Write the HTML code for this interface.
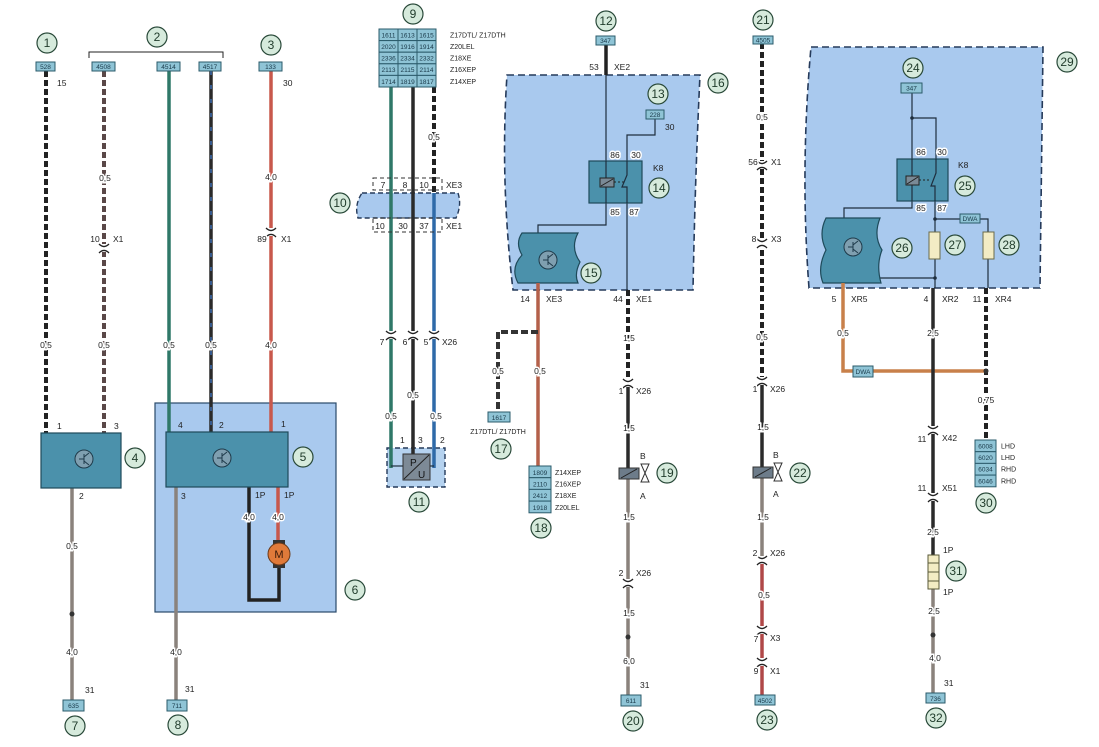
<!DOCTYPE html>
<html><head><meta charset="utf-8"><style>
html,body{margin:0;padding:0;background:#fff;}
svg{display:block;font-family:"Liberation Sans",sans-serif;}
.t{font-size:8.5px;fill:#222;text-anchor:middle;paint-order:stroke;stroke:#fff;stroke-width:3px;}
.tl{font-size:8.5px;fill:#222;text-anchor:start;}
.tb{font-size:6.5px;fill:#1a3a4a;text-anchor:middle;}
.ts{font-size:7px;fill:#222;text-anchor:start;}
.c circle{fill:#d6eadc;stroke:#2a4a3a;stroke-width:1.2;}
.c text{font-size:12px;fill:#1f3a2a;text-anchor:middle;}
.bx{fill:#8fc4d6;stroke:#2b5b6b;stroke-width:1;}
.mod{fill:#4b91ab;stroke:#1e4a5a;stroke-width:1.2;}
.sw{stroke:#fff;stroke-width:4;}
.sd{stroke:#222;stroke-width:4;stroke-dasharray:6 3;}
.thin{stroke:#1e2e3e;stroke-width:1.2;fill:none;}
</style></head><body>
<svg width="1099" height="747" viewBox="0 0 1099 747" xmlns="http://www.w3.org/2000/svg">
<defs>
<g id="cn"><rect x="-5" y="-4" width="10" height="8" fill="#fff"/><path d="M-5,-4 Q0,1 5,-4" stroke="#222" stroke-width="1.3" fill="none"/><path d="M-5,5 Q0,0 5,5" stroke="#222" stroke-width="1.3" fill="none"/></g>
</defs>

<!-- background boxes -->
<rect x="155" y="403" width="181" height="209" fill="#a9c9ee" stroke="#2a4a6a" stroke-width="1.2"/>
<path d="M507,75 L700,75 Q695,180 693,290 L513,290 Q500,180 507,75 Z" fill="#a9c9ee" stroke="#253a5a" stroke-width="1.6" stroke-dasharray="7 4"/>
<path d="M811,47 L1043,47 L1040,288 L809,288 Q800,170 811,47 Z" fill="#a9c9ee" stroke="#253a5a" stroke-width="1.6" stroke-dasharray="7 4"/>
<path d="M362,193 L458,193 Q462,205 456,218 L358,218 Q354,205 362,193 Z" fill="#a9c9ee" stroke="#253a5a" stroke-width="1.4" stroke-dasharray="5 3"/>
<rect x="387" y="448" width="58" height="39" fill="#b5d2ef" stroke="#253a5a" stroke-width="1.4" stroke-dasharray="5 3"/>

<!-- ===== wire 1 ===== -->
<line x1="46" y1="71" x2="46" y2="433" class="sw"/><line x1="46" y1="71" x2="46" y2="433" class="sd"/>
<line x1="72" y1="488" x2="72" y2="700" stroke="#8a827c" stroke-width="3.5"/>
<circle cx="72" cy="614" r="2.5" fill="#333"/>
<!-- wire 2a -->
<line x1="104" y1="71" x2="104" y2="433" class="sw"/><line x1="104" y1="71" x2="104" y2="433" stroke="#5a4848" stroke-width="4" stroke-dasharray="6 3"/>
<!-- wire 2b,2c,3 -->
<line x1="169" y1="71" x2="169" y2="432" stroke="#2f7868" stroke-width="3.5"/>
<line x1="211" y1="71" x2="211" y2="432" stroke="#2a2a2a" stroke-width="3.5"/>
<line x1="211" y1="71" x2="211" y2="432" stroke="#3a6ab0" stroke-width="1.5" stroke-dasharray="4 10"/>
<line x1="271" y1="71" x2="271" y2="432" stroke="#c8584c" stroke-width="3.5"/>
<use href="#cn" x="104" y="248"/><use href="#cn" x="271" y="232"/>
<line x1="176" y1="487" x2="176" y2="700" stroke="#8a827c" stroke-width="3.5"/>
<polyline points="249,487 249,600 279,600 279,566" fill="none" stroke="#222" stroke-width="3.5"/>
<line x1="278" y1="487" x2="278" y2="542" stroke="#c8584c" stroke-width="3.5"/>

<!-- bracket 2 -->
<polyline points="89,58 89,52 223,52 223,58" fill="none" stroke="#222" stroke-width="1"/>

<!-- top boxes -->
<rect x="36" y="62" width="19" height="9" class="bx"/><text x="45.5" y="69" class="tb">528</text>
<rect x="92" y="62" width="23" height="9" class="bx"/><text x="103.5" y="69" class="tb">4508</text>
<rect x="157" y="62" width="23" height="9" class="bx"/><text x="168.5" y="69" class="tb">4514</text>
<rect x="199" y="62" width="22" height="9" class="bx"/><text x="210" y="69" class="tb">4517</text>
<rect x="259" y="62" width="23" height="9" class="bx"/><text x="270.5" y="69" class="tb">133</text>

<!-- modules 4,5 -->
<rect x="41" y="433" width="80" height="55" class="mod"/>
<circle cx="84" cy="459" r="9" fill="#7f9fb0" stroke="#1e3a4a"/><path d="M79,459 H84 M84,454 V464 M84,457 L89,453 M84,461 L89,465" stroke="#1e3a4a" fill="none"/>
<rect x="166" y="432" width="122" height="55" class="mod"/>
<circle cx="222" cy="458" r="9" fill="#7f9fb0" stroke="#1e3a4a"/><path d="M217,458 H222 M222,453 V463 M222,456 L227,452 M222,460 L227,464" stroke="#1e3a4a" fill="none"/>
<!-- motor -->
<rect x="273" y="540" width="12" height="4" fill="#333"/><rect x="273" y="564" width="12" height="4" fill="#333"/>
<circle cx="279" cy="554" r="11" fill="#e07a3a" stroke="#6a3a1a"/><text x="279" y="558" style="font-size:11px;text-anchor:middle;fill:#3a1a0a">M</text>

<!-- labels left -->
<text x="57" y="86" class="tl">15</text>
<text x="46" y="348" class="t">0,5</text>
<text x="105" y="181" class="t">0,5</text>
<text x="95" y="242" class="t">10</text><text x="113" y="242" class="tl">X1</text>
<text x="104" y="348" class="t">0,5</text>
<text x="169" y="348" class="t">0,5</text>
<text x="211" y="348" class="t">0,5</text>
<text x="283" y="86" class="tl">30</text>
<text x="271" y="180" class="t">4,0</text>
<text x="262" y="242" class="t">89</text><text x="281" y="242" class="tl">X1</text>
<text x="271" y="348" class="t">4,0</text>
<text x="57" y="429" class="tl">1</text><text x="114" y="429" class="tl">3</text><text x="79" y="499" class="tl">2</text>
<text x="178" y="428" class="tl">4</text><text x="219" y="428" class="tl">2</text><text x="281" y="427" class="tl">1</text>
<text x="181" y="499" class="tl">3</text>
<text x="255" y="498" class="tl">1P</text><text x="284" y="498" class="tl">1P</text>
<text x="249" y="520" class="t">4,0</text><text x="278" y="520" class="t">4,0</text>
<text x="72" y="549" class="t">0,5</text><text x="72" y="655" class="t">4,0</text><text x="85" y="693" class="tl">31</text>
<text x="176" y="655" class="t">4,0</text><text x="185" y="692" class="tl">31</text>
<rect x="63" y="700" width="21" height="11" class="bx"/><text x="73.5" y="708" class="tb">635</text>
<rect x="167" y="700" width="20" height="11" class="bx"/><text x="177" y="708" class="tb">711</text>

<!-- ===== block 9 ===== -->
<line x1="391" y1="87" x2="391" y2="468" stroke="#2f7868" stroke-width="3.5"/>
<line x1="413" y1="87" x2="413" y2="455" stroke="#2a2a2a" stroke-width="3.5"/>
<line x1="434" y1="87" x2="434" y2="193" class="sw"/><line x1="434" y1="87" x2="434" y2="193" class="sd"/>
<line x1="434" y1="193" x2="434" y2="468" stroke="#2f6aa8" stroke-width="3.5"/>
<polyline points="391,466 403,466" stroke="#1e2e3e" stroke-width="1.2"/>
<polyline points="434,466 430,466" stroke="#1e2e3e" stroke-width="1.2"/>
<rect x="403" y="454" width="27" height="26" fill="#7d8a96" stroke="#333"/>
<line x1="404" y1="479" x2="429" y2="455" stroke="#222"/>
<text x="410" y="466" style="font-size:10px;fill:#111">P</text><text x="418" y="478" style="font-size:10px;fill:#111">U</text>
<rect x="373" y="178" width="69" height="12" fill="none" stroke="#333" stroke-dasharray="4 3"/>
<rect x="373" y="218" width="69" height="14" fill="none" stroke="#333" stroke-dasharray="4 3"/>
<g fill="#8fc4d6" stroke="#2b5b6b">
<rect x="379" y="29" width="19" height="11.6"/><rect x="398" y="29" width="19" height="11.6"/><rect x="417" y="29" width="19" height="11.6"/>
<rect x="379" y="40.6" width="19" height="11.6"/><rect x="398" y="40.6" width="19" height="11.6"/><rect x="417" y="40.6" width="19" height="11.6"/>
<rect x="379" y="52.2" width="19" height="11.6"/><rect x="398" y="52.2" width="19" height="11.6"/><rect x="417" y="52.2" width="19" height="11.6"/>
<rect x="379" y="63.8" width="19" height="11.6"/><rect x="398" y="63.8" width="19" height="11.6"/><rect x="417" y="63.8" width="19" height="11.6"/>
<rect x="379" y="75.4" width="19" height="11.6"/><rect x="398" y="75.4" width="19" height="11.6"/><rect x="417" y="75.4" width="19" height="11.6"/>
</g>
<g class="tb">
<text x="388.5" y="37.5" class="tb">1611</text><text x="407.5" y="37.5" class="tb">1613</text><text x="426.5" y="37.5" class="tb">1615</text>
<text x="388.5" y="49" class="tb">2020</text><text x="407.5" y="49" class="tb">1916</text><text x="426.5" y="49" class="tb">1914</text>
<text x="388.5" y="60.5" class="tb">2336</text><text x="407.5" y="60.5" class="tb">2334</text><text x="426.5" y="60.5" class="tb">2332</text>
<text x="388.5" y="72" class="tb">2113</text><text x="407.5" y="72" class="tb">2115</text><text x="426.5" y="72" class="tb">2114</text>
<text x="388.5" y="84" class="tb">1714</text><text x="407.5" y="84" class="tb">1819</text><text x="426.5" y="84" class="tb">1817</text>
</g>
<text x="450" y="37.5" class="ts">Z17DTL/ Z17DTH</text>
<text x="450" y="49" class="ts">Z20LEL</text>
<text x="450" y="60.5" class="ts">Z18XE</text>
<text x="450" y="72" class="ts">Z16XEP</text>
<text x="450" y="84" class="ts">Z14XEP</text>
<text x="434" y="140" class="t">0,5</text>
<text x="383" y="188" class="t">7</text><text x="405" y="188" class="t">8</text><text x="424" y="188" class="t">10</text><text x="446" y="188" class="tl">XE3</text>
<text x="380" y="229" class="t">10</text><text x="403" y="229" class="t">30</text><text x="424" y="229" class="t">37</text><text x="446" y="229" class="tl">XE1</text>
<use href="#cn" x="391" y="335"/><use href="#cn" x="413" y="335"/><use href="#cn" x="434" y="335"/>
<text x="382" y="345" class="t">7</text><text x="405" y="345" class="t">6</text><text x="426" y="345" class="t">5</text><text x="442" y="345" class="tl">X26</text>
<text x="391" y="419" class="t">0,5</text><text x="413" y="398" class="t">0,5</text><text x="436" y="419" class="t">0,5</text>
<text x="400" y="443" class="tl">1</text><text x="418" y="443" class="tl">3</text><text x="440" y="443" class="tl">2</text>

<!-- ===== box 16 content ===== -->
<line x1="606" y1="44" x2="606" y2="75" stroke="#222" stroke-width="3.5"/>
<polyline points="606,75 606,225 538,225 538,233" class="thin"/>
<polyline points="655,119 655,135 627,135 627,175" class="thin"/>
<line x1="627" y1="190" x2="627" y2="290" class="thin"/>
<rect x="589" y="161" width="53" height="42" class="mod"/>
<line x1="606" y1="161" x2="606" y2="203" class="thin"/>
<rect x="600" y="178" width="14" height="9" fill="#7a8a96" stroke="#222"/><line x1="601" y1="186" x2="613" y2="179" stroke="#222"/>
<line x1="614" y1="182" x2="624" y2="182" stroke="#222" stroke-dasharray="2 2"/>
<polyline points="627,161 627,175 622,187 627,187 627,203" fill="none" stroke="#1e2e3e" stroke-width="1.2"/>
<rect x="646" y="110" width="18" height="9" class="bx"/><text x="655" y="117" class="tb">228</text>
<text x="665" y="130" class="tl">30</text>
<text x="615" y="158" class="t">86</text><text x="636" y="158" class="t">30</text>
<text x="653" y="171" class="tl">K8</text>
<text x="615" y="215" class="t">85</text><text x="634" y="215" class="t">87</text>
<path d="M522,233 L578,233 Q570,248 580,262 Q574,274 578,283 L518,283 Q510,268 522,255 Q515,243 522,233 Z" class="mod"/>
<circle cx="548" cy="260" r="9" fill="#7f9fb0" stroke="#1e3a4a"/><path d="M543,260 H548 M548,255 V265 M548,258 L553,254 M548,262 L553,266" stroke="#1e3a4a" fill="none"/>
<rect x="596" y="36" width="19" height="9" class="bx"/><text x="605.5" y="43" class="tb">347</text>
<text x="594" y="70" class="t">53</text><text x="614" y="70" class="tl">XE2</text>

<!-- below box 16 -->
<line x1="538" y1="283" x2="538" y2="466" stroke="#b4604a" stroke-width="3.5"/>
<polyline points="538,332 498,332 498,412" fill="none" stroke="#fff" stroke-width="4"/>
<polyline points="538,332 498,332 498,412" fill="none" stroke="#333" stroke-width="4" stroke-dasharray="7 3"/>
<text x="525" y="302" class="t">14</text><text x="546" y="302" class="tl">XE3</text>
<text x="618" y="302" class="t">44</text><text x="636" y="302" class="tl">XE1</text>
<text x="498" y="374" class="t">0,5</text><text x="540" y="374" class="t">0,5</text>
<rect x="488" y="412" width="22" height="10" class="bx"/><text x="499" y="420" class="tb">1617</text>
<text x="498" y="434" class="t" style="font-size:7px">Z17DTL/ Z17DTH</text>
<g fill="#8fc4d6" stroke="#2b5b6b"><rect x="529" y="466" width="22" height="11.7"/><rect x="529" y="477.7" width="22" height="11.7"/><rect x="529" y="489.4" width="22" height="11.7"/><rect x="529" y="501.1" width="22" height="11.7"/></g>
<text x="540" y="475" class="tb">1809</text><text x="540" y="486.5" class="tb">2110</text><text x="540" y="498" class="tb">2412</text><text x="540" y="510" class="tb">1918</text>
<text x="555" y="475" class="ts">Z14XEP</text><text x="555" y="486.5" class="ts">Z16XEP</text><text x="555" y="498" class="ts">Z18XE</text><text x="555" y="510" class="ts">Z20LEL</text>

<!-- wire 19/20 -->
<line x1="628" y1="290" x2="628" y2="383" class="sw"/><line x1="628" y1="290" x2="628" y2="383" class="sd"/>
<line x1="628" y1="383" x2="628" y2="470" stroke="#2a2a2a" stroke-width="3.5"/>
<line x1="628" y1="478" x2="628" y2="695" stroke="#8a827c" stroke-width="3.5"/>
<circle cx="628" cy="637" r="2.5" fill="#333"/>
<use href="#cn" x="628" y="383"/><use href="#cn" x="628" y="583"/>
<rect x="619" y="468" width="20" height="11" fill="#6d7c8a" stroke="#333"/><line x1="621" y1="478" x2="637" y2="469" stroke="#222"/>
<path d="M641,464 L649,464 L641,482 L649,482 Z" fill="#fff" stroke="#333"/>
<text x="629" y="341" class="t">1,5</text>
<text x="621" y="394" class="t">1</text><text x="636" y="394" class="tl">X26</text>
<text x="629" y="431" class="t">1,5</text>
<text x="640" y="459" class="tl">B</text><text x="640" y="499" class="tl">A</text>
<text x="629" y="520" class="t">1,5</text>
<text x="621" y="576" class="t">2</text><text x="636" y="576" class="tl">X26</text>
<text x="629" y="616" class="t">1,5</text><text x="629" y="664" class="t">6,0</text>
<text x="640" y="688" class="tl">31</text>
<rect x="621" y="695" width="20" height="11" class="bx"/><text x="631" y="703" class="tb">611</text>

<!-- wire 21-23 -->
<line x1="762" y1="43" x2="762" y2="381" class="sw"/><line x1="762" y1="43" x2="762" y2="381" class="sd"/>
<line x1="762" y1="381" x2="762" y2="468" stroke="#2a2a2a" stroke-width="3.5"/>
<line x1="762" y1="478" x2="762" y2="560" stroke="#8a827c" stroke-width="3.5"/>
<line x1="762" y1="560" x2="762" y2="695" stroke="#b04848" stroke-width="3.5"/>
<use href="#cn" x="762" y="165"/><use href="#cn" x="762" y="243"/><use href="#cn" x="762" y="381"/><use href="#cn" x="762" y="560"/><use href="#cn" x="762" y="630"/><use href="#cn" x="762" y="662"/>
<rect x="753" y="467" width="20" height="11" fill="#6d7c8a" stroke="#333"/><line x1="755" y1="477" x2="771" y2="468" stroke="#222"/>
<path d="M774,463 L782,463 L774,481 L782,481 Z" fill="#fff" stroke="#333"/>
<rect x="753" y="36" width="20" height="8" class="bx"/><text x="763" y="42.5" class="tb">4505</text>
<text x="762" y="120" class="t">0,5</text>
<text x="753" y="165" class="t">56</text><text x="771" y="165" class="tl">X1</text>
<text x="754" y="242" class="t">8</text><text x="771" y="242" class="tl">X3</text>
<text x="762" y="340" class="t">0,5</text>
<text x="755" y="392" class="t">1</text><text x="770" y="392" class="tl">X26</text>
<text x="763" y="430" class="t">1,5</text>
<text x="773" y="458" class="tl">B</text><text x="773" y="497" class="tl">A</text>
<text x="763" y="520" class="t">1,5</text>
<text x="755" y="556" class="t">2</text><text x="770" y="556" class="tl">X26</text>
<text x="764" y="598" class="t">0,5</text>
<text x="756" y="642" class="t">7</text><text x="770" y="641" class="tl">X3</text>
<text x="756" y="674" class="t">9</text><text x="770" y="674" class="tl">X1</text>
<rect x="755" y="695" width="20" height="10" class="bx"/><text x="765" y="703" class="tb">4502</text>

<!-- ===== box 29 content ===== -->
<polyline points="912,93 912,208 844,208 844,218" class="thin"/>
<polyline points="912,118 936,118 936,175" class="thin"/>
<circle cx="912" cy="118" r="1.8" fill="#1e2e3e"/>
<line x1="935" y1="190" x2="935" y2="288" class="thin"/>
<polyline points="935,219 960,219" class="thin"/><polyline points="980,219 988,219 988,232" class="thin"/>
<line x1="988" y1="259" x2="988" y2="288" class="thin"/>
<polyline points="869,266 869,278 935,278" class="thin"/>
<circle cx="935" cy="219" r="1.8" fill="#1e2e3e"/><circle cx="935" cy="278" r="1.8" fill="#1e2e3e"/>
<rect x="897" y="159" width="51" height="42" class="mod"/>
<line x1="912" y1="159" x2="912" y2="201" class="thin"/>
<rect x="906" y="176" width="13" height="9" fill="#7a8a96" stroke="#222"/><line x1="907" y1="184" x2="918" y2="177" stroke="#222"/>
<line x1="919" y1="180" x2="931" y2="180" stroke="#222" stroke-dasharray="2 2"/>
<polyline points="936,159 936,173 931,186 935,186 935,201" fill="none" stroke="#1e2e3e" stroke-width="1.2"/>
<rect x="901" y="83" width="21" height="10" class="bx"/><text x="911.5" y="90.5" class="tb">347</text>
<text x="921" y="155" class="t">86</text><text x="942" y="155" class="t">30</text>
<text x="958" y="168" class="tl">K8</text>
<text x="921" y="211" class="t">85</text><text x="942" y="211" class="t">87</text>
<rect x="960" y="214" width="20" height="9" class="bx"/><text x="970" y="221" class="tb">DWA</text>
<rect x="929" y="232" width="11" height="27" fill="#f3ecc4" stroke="#6a6a4a"/>
<rect x="983" y="232" width="11" height="27" fill="#f3ecc4" stroke="#6a6a4a"/>
<path d="M826,218 L880,218 Q873,236 882,250 Q876,265 881,283 L823,283 Q817,268 826,250 Q818,234 826,218 Z" class="mod"/>
<circle cx="853" cy="247" r="9" fill="#7f9fb0" stroke="#1e3a4a"/><path d="M848,247 H853 M853,242 V252 M853,245 L858,241 M853,249 L858,253" stroke="#1e3a4a" fill="none"/>

<!-- below box 29 -->
<polyline points="843,283 843,371 986,371" fill="none" stroke="#c8804a" stroke-width="3.5"/>
<line x1="933" y1="288" x2="933" y2="555" stroke="#2a2a2a" stroke-width="3.5"/>
<line x1="933" y1="589" x2="933" y2="693" stroke="#8a827c" stroke-width="3.5"/>
<circle cx="933" cy="635" r="2.5" fill="#333"/>
<line x1="986" y1="288" x2="986" y2="440" class="sw"/><line x1="986" y1="288" x2="986" y2="440" class="sd"/>
<circle cx="986" cy="371" r="2.5" fill="#333"/>
<rect x="853" y="366" width="20" height="11" class="bx"/><text x="863" y="374" class="tb">DWA</text>
<use href="#cn" x="933" y="430"/><use href="#cn" x="933" y="497"/>
<rect x="928" y="555" width="11" height="34" fill="#f3ecc4" stroke="#5a5a3a"/>
<path d="M928,563 H939 M928,572 H939 M928,581 H939" stroke="#5a5a3a"/>
<text x="834" y="302" class="t">5</text><text x="851" y="302" class="tl">XR5</text>
<text x="926" y="302" class="t">4</text><text x="942" y="302" class="tl">XR2</text>
<text x="977" y="302" class="t">11</text><text x="995" y="302" class="tl">XR4</text>
<text x="843" y="336" class="t">0,5</text><text x="933" y="336" class="t">2,5</text>
<text x="986" y="403" class="t">0,75</text>
<text x="922" y="442" class="t">11</text><text x="942" y="441" class="tl">X42</text>
<text x="922" y="491" class="t">11</text><text x="942" y="491" class="tl">X51</text>
<text x="933" y="535" class="t">2,5</text>
<text x="943" y="553" class="tl">1P</text><text x="943" y="595" class="tl">1P</text>
<text x="934" y="614" class="t">2,5</text><text x="935" y="661" class="t">4,0</text>
<text x="944" y="686" class="tl">31</text>
<rect x="926" y="693" width="19" height="10" class="bx"/><text x="935.5" y="701" class="tb">736</text>
<g fill="#8fc4d6" stroke="#2b5b6b"><rect x="975" y="440" width="21" height="11.7"/><rect x="975" y="451.7" width="21" height="11.7"/><rect x="975" y="463.4" width="21" height="11.7"/><rect x="975" y="475.1" width="21" height="11.7"/></g>
<text x="985.5" y="448.5" class="tb">6008</text><text x="985.5" y="460" class="tb">6020</text><text x="985.5" y="471.5" class="tb">6034</text><text x="985.5" y="483.5" class="tb">6046</text>
<text x="1001" y="448.5" class="ts">LHD</text><text x="1001" y="460" class="ts">LHD</text><text x="1001" y="471.5" class="ts">RHD</text><text x="1001" y="483.5" class="ts">RHD</text>

<!-- number circles -->
<g class="c">
<circle cx="47" cy="43" r="10"/><text x="47" y="47">1</text>
<circle cx="157" cy="37" r="10"/><text x="157" y="41">2</text>
<circle cx="271" cy="45" r="10"/><text x="271" y="49">3</text>
<circle cx="135" cy="458" r="10"/><text x="135" y="462">4</text>
<circle cx="303" cy="457" r="10"/><text x="303" y="461">5</text>
<circle cx="355" cy="590" r="10"/><text x="355" y="594">6</text>
<circle cx="75" cy="726" r="10"/><text x="75" y="730">7</text>
<circle cx="178" cy="725" r="10"/><text x="178" y="729">8</text>
<circle cx="413" cy="14" r="10"/><text x="413" y="18">9</text>
<circle cx="340" cy="203" r="10"/><text x="340" y="207">10</text>
<circle cx="419" cy="502" r="10"/><text x="419" y="506">11</text>
<circle cx="606" cy="21" r="10"/><text x="606" y="25">12</text>
<circle cx="658" cy="94" r="10"/><text x="658" y="98">13</text>
<circle cx="659" cy="188" r="10"/><text x="659" y="192">14</text>
<circle cx="591" cy="273" r="10"/><text x="591" y="277">15</text>
<circle cx="718" cy="83" r="10"/><text x="718" y="87">16</text>
<circle cx="501" cy="449" r="10"/><text x="501" y="453">17</text>
<circle cx="541" cy="528" r="10"/><text x="541" y="532">18</text>
<circle cx="667" cy="473" r="10"/><text x="667" y="477">19</text>
<circle cx="633" cy="721" r="10"/><text x="633" y="725">20</text>
<circle cx="763" cy="20" r="10"/><text x="763" y="24">21</text>
<circle cx="800" cy="473" r="10"/><text x="800" y="477">22</text>
<circle cx="767" cy="720" r="10"/><text x="767" y="724">23</text>
<circle cx="913" cy="68" r="10"/><text x="913" y="72">24</text>
<circle cx="965" cy="186" r="10"/><text x="965" y="190">25</text>
<circle cx="902" cy="248" r="10"/><text x="902" y="252">26</text>
<circle cx="955" cy="245" r="10"/><text x="955" y="249">27</text>
<circle cx="1009" cy="245" r="10"/><text x="1009" y="249">28</text>
<circle cx="1067" cy="62" r="10"/><text x="1067" y="66">29</text>
<circle cx="986" cy="503" r="10"/><text x="986" y="507">30</text>
<circle cx="956" cy="571" r="10"/><text x="956" y="575">31</text>
<circle cx="936" cy="718" r="10"/><text x="936" y="722">32</text>
</g>
</svg>
</body></html>
